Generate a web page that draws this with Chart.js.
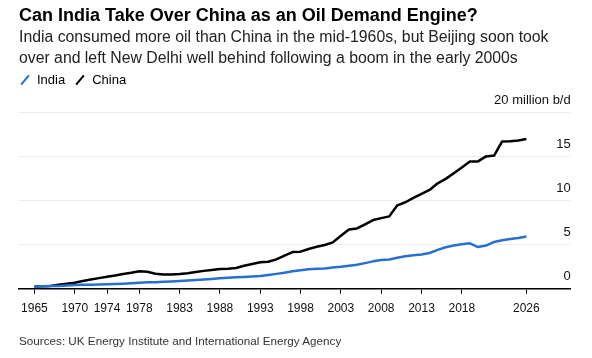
<!DOCTYPE html>
<html>
<head>
<meta charset="utf-8">
<script src="https://cdn.jsdelivr.net/npm/chart.js@4"></script>
<style>
  body { margin: 0; background: #fff; font-family: "Liberation Sans", Arial, sans-serif; }
  #wrap { position: relative; width: 592px; height: 358px; overflow: hidden; }
  #chart { position: absolute; left: 0; top: 0; }
  .txt { position: absolute; left: 19px; white-space: nowrap; }
  #title { top: 4px; font-size: 18px; font-weight: bold; line-height: 22px; color: #000; }
  #subtitle { top: 26px; font-size: 15.8px; line-height: 21px; color: #222; }
  #legend { top: 72px; font-size: 13px; line-height: 16px; color: #000; }
  #source { top: 333px; font-size: 11.7px; line-height: 16px; color: #333; }
  .sw { display: inline-block; width: 2px; height: 12px; transform: rotate(40deg); vertical-align: -2px; margin: 0 11px 0 5px; }
  .gap { display: inline-block; width: 9px; }
</style>
</head>
<body>
<div id="wrap">
  <canvas id="chart" width="592" height="358"></canvas>
  <div class="txt" id="title">Can India Take Over China as an Oil Demand Engine?</div>
  <div class="txt" id="subtitle">India consumed more oil than China in the mid-1960s, but Beijing soon took<br>over and left New Delhi well behind following a boom in the early 2000s</div>
  <div class="txt" id="legend"></div>
  <div class="txt" id="source">Sources: UK Energy Institute and International Energy Agency</div>
</div>
<script>
// million barrels a day
const years = [1965, 1966, 1967, 1968, 1969, 1970, 1971, 1972, 1973, 1974,
    1975, 1976, 1977, 1978, 1979, 1980, 1981, 1982, 1983, 1984,
    1985, 1986, 1987, 1988, 1989, 1990, 1991, 1992, 1993, 1994,
    1995, 1996, 1997, 1998, 1999, 2000, 2001, 2002, 2003, 2004,
    2005, 2006, 2007, 2008, 2009, 2010, 2011, 2012, 2013, 2014,
    2015, 2016, 2017, 2018, 2019, 2020, 2021, 2022, 2023, 2024,
    2025, 2026];
const india = [0.25, 0.27, 0.30, 0.32, 0.36, 0.42, 0.44, 0.46, 0.48, 0.50,
    0.53, 0.57, 0.62, 0.68, 0.72, 0.74, 0.78, 0.82, 0.87, 0.92,
    0.98, 1.03, 1.10, 1.18, 1.25, 1.30, 1.34, 1.38, 1.44, 1.55,
    1.68, 1.82, 1.98, 2.10, 2.20, 2.26, 2.30, 2.40, 2.48, 2.60,
    2.72, 2.90, 3.10, 3.25, 3.32, 3.50, 3.68, 3.80, 3.88, 4.05,
    4.40, 4.70, 4.90, 5.05, 5.15, 4.72, 4.89, 5.30, 5.50, 5.63,
    5.75, 5.91];
const china = [0.25, 0.28, 0.32, 0.44, 0.55, 0.68, 0.88, 1.05, 1.20, 1.36,
    1.50, 1.67, 1.80, 1.97, 1.93, 1.70, 1.60, 1.62, 1.67, 1.76,
    1.90, 2.02, 2.12, 2.23, 2.26, 2.35, 2.60, 2.80, 2.99, 3.05,
    3.33, 3.75, 4.15, 4.20, 4.50, 4.75, 4.95, 5.25, 6.00, 6.70,
    6.83, 7.30, 7.78, 8.00, 8.20, 9.45, 9.80, 10.30, 10.75, 11.20,
    11.95, 12.45, 13.10, 13.75, 14.43, 14.43, 15.00, 15.10, 16.70, 16.71,
    16.80, 16.97];
const xTicks = [1965, 1970, 1974, 1978, 1983, 1988, 1993, 1998, 2003, 2008, 2013, 2018, 2026];
const yTicks = [0, 5, 10, 15, 20];
const seriesNames = ['India', 'China'];
const seriesColors = ['#2670d2', '#000000'];

// legend in html
const legendEl = document.getElementById('legend');
seriesNames.forEach((name, i) => {
    if (i > 0) legendEl.innerHTML += '<span class="gap"></span>';
    legendEl.innerHTML += `<span class="sw" style="background:${seriesColors[i]}"></span>${name}`;
});

const toPoints = vals => years.map((yr, i) => ({ x: yr, y: vals[i] }));

const ctx = document.getElementById('chart').getContext('2d');
new Chart(ctx, {
    type: 'line',
    data: {
        datasets: [
            { label: seriesNames[0], data: toPoints(india), borderColor: seriesColors[0], borderWidth: 2.5, pointRadius: 0, tension: 0, borderJoinStyle: 'round' },
            { label: seriesNames[1], data: toPoints(china), borderColor: seriesColors[1], borderWidth: 2.5, pointRadius: 0, tension: 0, borderJoinStyle: 'round' }
        ]
    },
    options: {
        responsive: false,
        animation: false,
        layout: { padding: { left: 18.3, right: 21.3, top: 112.3, bottom: 39.3 } },
        plugins: { legend: { display: false }, tooltip: { enabled: false } },
        scales: {
            x: {
                type: 'linear',
                min: 1963,
                max: 2031.5,
                afterBuildTicks: s => { s.ticks = xTicks.map(v => ({ value: v })); },
                afterFit: s => { s.height = 30; },
                grid: { drawOnChartArea: false, drawTicks: true, tickLength: 5, tickColor: '#000', tickWidth: 1 },
                border: { color: '#000', width: 1.5 },
                ticks: {
                    callback: v => String(v),
                    font: { family: '"Liberation Sans", Arial, sans-serif', size: 12 },
                    color: '#111',
                    padding: 8,
                    maxRotation: 0,
                    autoSkip: false
                }
            },
            y: {
                position: 'right',
                min: 0,
                max: 20,
                afterBuildTicks: s => { s.ticks = yTicks.map(v => ({ value: v })); },
                afterFit: s => { s.width = 0; },
                grid: {
                    color: c => c.tick && c.tick.value === 0 ? 'rgba(0,0,0,0)' : '#ececec',
                    drawTicks: false,
                    lineWidth: 1
                },
                border: { display: false },
                ticks: {
                    mirror: true,
                    padding: 0,
                    labelOffset: -12,
                    font: { family: '"Liberation Sans", Arial, sans-serif', size: 13 },
                    color: '#111',
                    callback: v => v === 20 ? '20 million b/d' : String(v)
                }
            }
        }
    }
});
</script>
</body>
</html>
